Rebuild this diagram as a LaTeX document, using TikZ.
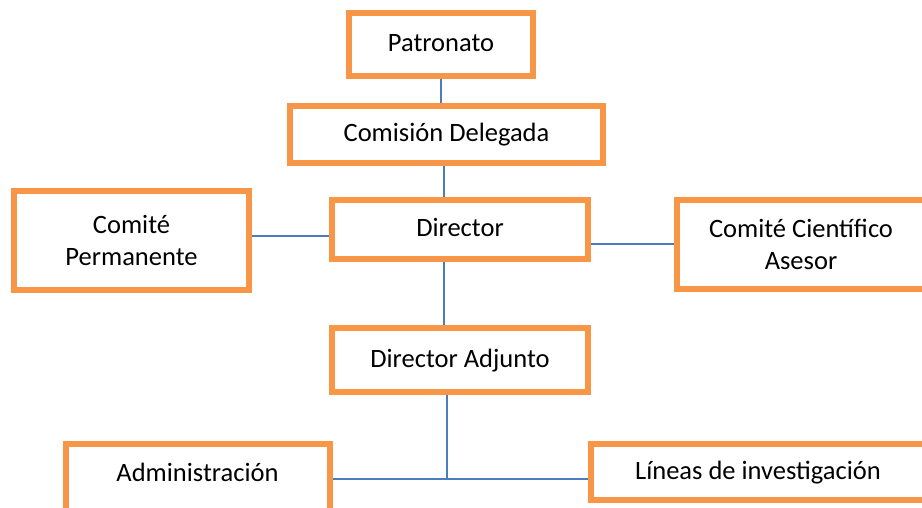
\documentclass[tikz,border=0pt]{standalone}
\usepackage{fontspec}
\setmainfont{Carlito}
\definecolor{boxorange}{HTML}{F79646}
\definecolor{lineblue}{HTML}{4A7EBB}
\tikzset{
  orgbox/.style={draw=boxorange,line width=6pt,rectangle,inner sep=0pt,
    font=\fontsize{26.5}{32}\selectfont,align=center},
  oneline/.style={text height=18pt,text depth=4pt},
  link/.style={draw=lineblue,line width=2pt},
}

\begin{document}
\begin{tikzpicture}[x=1pt,y=-1pt]
		\useasboundingbox (0,0) rectangle (922,508);
		\clip (0,0) rectangle (922,508);

		\node [orgbox,oneline,minimum width=184pt,minimum height=63pt] (patronato) at (441,44.5) {Patronato};
		\node [orgbox,oneline,minimum width=313pt,minimum height=57pt] (comision) at (446.5,134.5) {Comisión Delegada};
		\node [orgbox,oneline,minimum width=256pt,minimum height=59pt] (director) at (460,229.5) {Director};
		\node [orgbox,minimum width=235pt,minimum height=99pt] (permanente) at (131.5,240.5) {Comité\\Permanente};
		\node [orgbox,minimum width=248pt,minimum height=89pt] (cientifico) at (801,244.5) {Comité Científico\\Asesor};
		\node [orgbox,oneline,minimum width=256pt,minimum height=64pt] (adjunto) at (460,360) {Director Adjunto};
		\node [orgbox,minimum width=264pt,minimum height=0pt,text height=37pt,text depth=49pt,anchor=north] (admin) at (197.5,441) {Administración};
		\node [orgbox,oneline,minimum width=334pt,minimum height=56pt] (lineas) at (758,472) {Líneas de investigación};

		\coordinate (spine) at (444,0);
		\coordinate (branch) at (447,479);

		\draw [link] (patronato.south) -- (patronato.south |- comision.north);
		\draw [link] (spine |- comision.south) -- (spine |- director.north);
		\draw [link] ([yshift=4.5pt]permanente.east) -- ([yshift=4.5pt]permanente.east -| director.west);
		\draw [link] (cientifico.west) -- (cientifico.west -| director.east);
		\draw [link] (spine |- director.south) -- (spine |- adjunto.north);
		\draw [link] (branch |- adjunto.south) -- (branch);
		\draw [link] (admin.east |- branch) -- (lineas.west |- branch);
	\end{tikzpicture}
\end{document}
